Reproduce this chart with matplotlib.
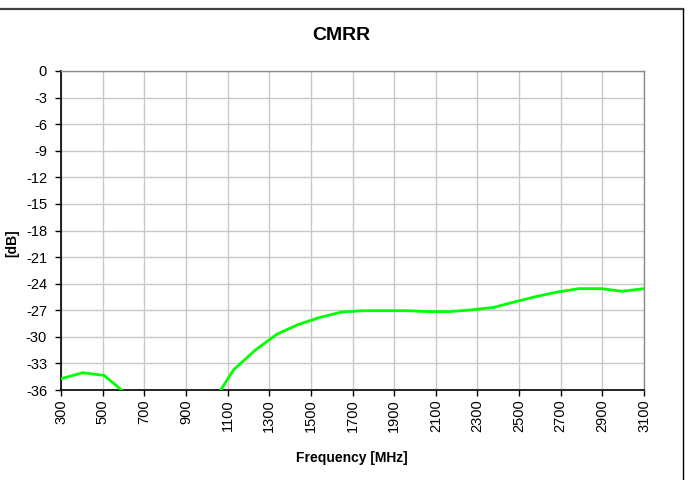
import matplotlib
matplotlib.use("Agg")
import matplotlib.pyplot as plt
from matplotlib.lines import Line2D

# frequency points [MHz] and CMRR [dB]
freq_mhz = [300, 404, 507, 611, 715, 819, 922, 1026, 1130, 1233, 1337, 1441,
            1544, 1648, 1752, 1856, 1959, 2063, 2167, 2270, 2374, 2478, 2581,
            2685, 2789, 2893, 2996, 3100]
cmrr_db = [-34.73, -34.05, -34.35, -36.4, -38.0, -39.0, -39.0, -37.5, -33.7,
           -31.5, -29.7, -28.6, -27.8, -27.2, -27.05, -27.05, -27.05, -27.15,
           -27.15, -26.96, -26.7, -26.06, -25.46, -24.94, -24.56, -24.56,
           -24.86, -24.56]

x_ticks = list(range(300, 3101, 200))
y_ticks = list(range(0, -37, -3))

plt.rcParams['font.family'] = ['Liberation Sans', 'DejaVu Sans']

fig = plt.figure(figsize=(6.93, 4.80), dpi=100)
ax = fig.add_axes([61 / 693, 1 - 390 / 480, 583 / 693, 319 / 480])

ax.plot(freq_mhz, cmrr_db, color="#00FF00", linewidth=2.0, solid_joinstyle="miter", zorder=3)

ax.set_xlim(300, 3100)
ax.set_ylim(-36, 0)
ax.set_xticks(x_ticks)
ax.set_yticks(y_ticks)
ax.set_xticklabels([str(t) for t in x_ticks], rotation=90, fontsize=10.5)
ax.set_yticklabels([str(t) for t in y_ticks], fontsize=10.5)
ax.tick_params(axis="both", direction="out", length=4, width=1, color="black")
ax.tick_params(axis="y", pad=6)
ax.tick_params(axis="x", pad=3)

ax.grid(True, color="#C8C8C8", linewidth=1.0)
ax.set_axisbelow(True)
for side in ["left", "bottom"]:
    ax.spines[side].set_color("black")
    ax.spines[side].set_linewidth(1.2)
for side in ["top", "right"]:
    ax.spines[side].set_color("#8C8C8C")
    ax.spines[side].set_linewidth(1.0)

fig.text(341 / 693, 1 - 35 / 480, "CMRR", ha="center", va="center", fontsize=14, fontweight="bold")
fig.text(352 / 693, 1 - 458 / 480, "Frequency [MHz]", ha="center", va="center", fontsize=10, fontweight="bold")
fig.text(12 / 693, 1 - 243 / 480, "[dB]", ha="center", va="center", rotation=90, fontsize=10, fontweight="bold")

# outer chart frame (partly visible)
fig.add_artist(Line2D([0, 683 / 693], [1 - 8.5 / 480, 1 - 8.5 / 480], color="#404040", linewidth=1.6))
fig.add_artist(Line2D([682.5 / 693, 682.5 / 693], [0, 1 - 8.5 / 480], color="black", linewidth=1.0))

fig.savefig("out.png", dpi=100)
